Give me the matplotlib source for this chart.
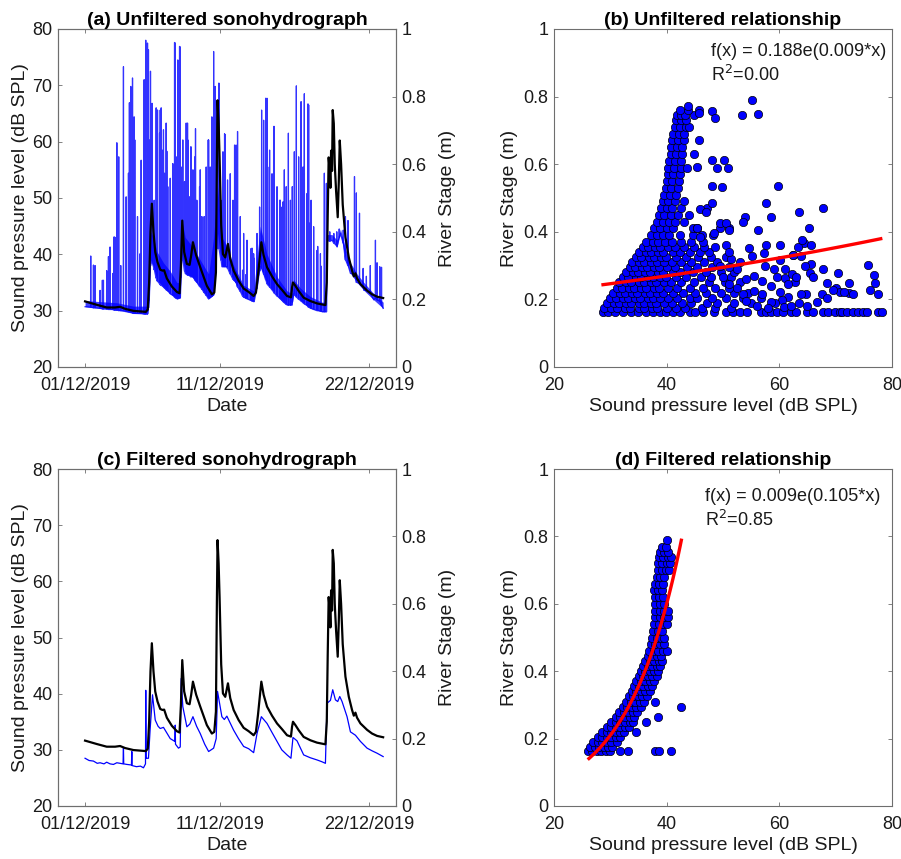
import datetime as dt
import numpy as np
import matplotlib
matplotlib.use("Agg")
import matplotlib.pyplot as plt
import matplotlib.dates as mdates
from matplotlib.ticker import FormatStrFormatter

plt.rcParams["font.family"] = ["Liberation Sans", "DejaVu Sans"]
plt.rcParams["font.size"] = 13

# ---- time series (days after 01/12/2019 00:00) ----
# river stage (m), right axis
stage_day = [0.00, 0.86, 1.60, 2.22, 2.59, 2.96, 3.58, 4.49, 4.64, 4.74, 4.84, 4.94, 5.06, 5.19,
             5.36, 5.56, 5.73, 5.85, 6.05, 6.42, 6.79, 6.99, 7.09, 7.19, 7.33, 7.53, 7.73, 7.85,
             7.98, 8.22, 8.52, 9.01, 9.38, 9.56, 9.68, 9.75, 9.80, 9.88, 9.95, 10.07, 10.20,
             10.37, 10.57, 10.74, 10.99, 11.36, 11.73, 12.10, 12.47, 12.64, 12.79, 12.94, 13.04,
             13.21, 13.46, 13.83, 14.20, 14.57, 14.94, 15.23, 15.31, 15.38, 15.56, 15.80, 16.17,
             16.67, 17.16, 17.78, 17.88, 17.95, 18.02, 18.10, 18.15, 18.20, 18.27, 18.32, 18.40,
             18.47, 18.57, 18.69, 18.77, 18.84, 18.94, 19.06, 19.26, 19.51, 19.75, 19.88, 20.00,
             20.12, 20.37, 20.86, 21.23, 21.60, 22.05]
stage_m = [0.194, 0.184, 0.176, 0.176, 0.178, 0.172, 0.166, 0.163, 0.170, 0.25, 0.40, 0.483, 0.40,
           0.34, 0.31, 0.288, 0.285, 0.286, 0.262, 0.238, 0.222, 0.218, 0.30, 0.433, 0.34, 0.305,
           0.302, 0.33, 0.369, 0.33, 0.295, 0.240, 0.215, 0.22, 0.28, 0.60, 0.789, 0.72, 0.62,
           0.42, 0.334, 0.324, 0.364, 0.32, 0.285, 0.255, 0.232, 0.222, 0.210, 0.22, 0.27, 0.33,
           0.369, 0.33, 0.295, 0.268, 0.245, 0.228, 0.21, 0.206, 0.235, 0.25, 0.24, 0.225, 0.205,
           0.195, 0.188, 0.183, 0.25, 0.45, 0.62, 0.58, 0.53, 0.64, 0.58, 0.76, 0.72, 0.60, 0.52,
           0.443, 0.55, 0.67, 0.60, 0.48, 0.384, 0.324, 0.285, 0.268, 0.277, 0.262, 0.245, 0.226,
           0.215, 0.208, 0.204]

# unfiltered SPL: baseline, dense noise top and individual spikes
base_day = [0.00, 1.11, 2.35, 3.58, 4.57, 4.74, 4.86, 5.06, 5.31, 5.80, 6.30, 6.79, 7.04, 7.16,
            7.41, 7.90, 8.52, 9.14, 9.51, 9.80, 10.12, 10.49, 10.99, 11.73, 12.47, 12.96, 13.46,
            14.20, 14.94, 15.31, 15.43, 15.93, 16.67, 17.53, 17.80, 17.90, 18.27, 18.64, 18.89,
            19.26, 19.63, 20.12, 20.62, 21.36, 22.05]
base_db = [30.7, 30.4, 30.1, 29.5, 29.4, 31.9, 39.0, 37.8, 35.4, 34.2, 33.0, 32.1, 32.3, 40.1,
           36.6, 36.0, 34.2, 32.1, 32.8, 43.7, 37.8, 37.8, 35.4, 32.4, 31.6, 37.8, 34.8, 32.6,
           31.0, 31.0, 33.0, 31.8, 30.4, 29.8, 29.8, 42.5, 42.5, 41.3, 43.7, 39.0, 36.6, 35.0,
           33.6, 31.9, 30.4]
band_top_db = [31.8, 31.6, 31.4, 30.8, 30.8, 38.0, 44.0, 43.0, 40.5, 38.5, 37.0, 35.0, 35.0, 46.0,
               43.0, 41.5, 39.0, 36.5, 43.0, 52.0, 43.0, 41.5, 38.0, 34.5, 33.5, 45.0, 40.0, 36.0,
               33.5, 33.0, 35.5, 34.0, 32.5, 31.5, 31.5, 43.5, 43.5, 42.5, 44.5, 41.0, 38.5, 36.5,
               35.0, 33.0, 31.5]
spike_day = [0.42, 0.62, 0.74, 1.11, 1.28, 1.36, 1.60, 1.73, 1.85, 2.05, 2.15, 2.22, 2.35, 2.49,
             2.64, 2.84, 3.04, 3.21, 3.28, 3.38, 3.51, 3.58, 3.63, 3.68, 3.88, 4.07, 4.15, 4.37,
             4.49, 4.62, 4.69, 4.74, 4.84, 4.96, 5.11, 5.26, 5.31, 5.36, 5.51, 5.56, 5.63, 5.75,
             5.80, 5.88, 6.00, 6.05, 6.12, 6.30, 6.49, 6.62, 6.67, 6.74, 6.86, 6.99, 7.04, 7.11,
             7.23, 7.36, 7.48, 7.58, 7.60, 7.73, 7.83, 7.98, 8.12, 8.17, 8.27, 8.47, 8.52, 8.64,
             8.81, 8.96, 9.11, 9.14, 9.26, 9.38, 9.51, 9.63, 9.75, 9.90, 10.05, 10.20, 10.32,
             10.37, 10.54, 10.74, 10.94, 11.06, 11.17, 11.28, 11.48, 11.65, 11.73, 11.90, 11.98,
             12.27, 12.35, 12.47, 12.50, 12.72, 12.91, 13.06, 13.21, 13.36, 13.46, 13.51, 13.65,
             13.83, 13.95, 14.00, 14.20, 14.40, 14.44, 14.57, 14.64, 14.74, 14.88, 15.04, 15.19,
             15.33, 15.48, 15.63, 15.80, 15.98, 16.12, 16.22, 16.42, 16.49, 16.54, 16.66, 16.72,
             16.91, 17.16, 17.21, 17.41, 17.46, 17.70, 17.85, 18.10, 18.40, 18.62, 18.80, 19.10,
             19.26, 19.45, 19.93, 20.07, 20.30, 20.57, 20.81, 21.10, 21.48, 21.60, 21.80, 21.93]
spike_foot = [30.6, 30.5, 30.5, 30.4, 30.3, 30.3, 30.3, 30.2, 30.2, 30.2, 30.1, 30.1, 30.1, 30.0,
              30.0, 30.0, 29.9, 29.8, 29.8, 29.7, 29.6, 29.5, 29.5, 29.5, 29.5, 29.5, 29.5, 29.4,
              29.4, 29.4, 30.5, 31.9, 38.0, 38.5, 37.3, 35.8, 35.4, 35.2, 34.8, 34.6, 34.5, 34.3,
              34.2, 34.0, 33.7, 33.6, 33.5, 33.0, 32.7, 32.4, 32.3, 32.2, 32.1, 32.2, 32.3, 36.0,
              39.0, 37.0, 36.5, 36.3, 36.3, 36.2, 36.0, 36.0, 35.5, 35.3, 35.0, 34.3, 34.2, 33.8,
              33.2, 32.7, 32.2, 32.1, 32.3, 32.5, 32.8, 36.0, 41.0, 41.0, 39.0, 37.8, 37.8, 37.8,
              37.5, 36.5, 35.6, 35.3, 35.0, 34.2, 33.4, 32.6, 32.4, 32.2, 32.1, 31.8, 31.7, 31.6,
              31.6, 34.0, 37.0, 37.5, 36.5, 35.5, 34.8, 34.6, 34.2, 33.7, 33.3, 33.1, 32.6, 32.2,
              32.1, 31.8, 31.6, 31.4, 31.1, 31.0, 31.0, 31.5, 32.8, 32.4, 32.0, 31.7, 31.4, 31.2,
              30.9, 30.7, 30.6, 30.5, 30.4, 30.2, 30.0, 30.0, 29.9, 29.9, 29.8, 29.8, 42.3, 42.0,
              41.5, 43.0, 42.0, 39.0, 38.0, 36.6, 35.0, 34.8, 34.2, 33.6, 33.0, 32.2, 31.9, 31.7,
              31.0, 30.7]
spike_db = [39.7, 38.1, 38.0, 33.6, 35.4, 35.4, 37.1, 39.6, 41.3, 36.6, 43.1, 43.0, 59.8, 57.3,
            38.0, 73.3, 50.2, 54.4, 66.9, 69.8, 71.3, 63.8, 64.4, 60.3, 46.7, 40.1, 56.7, 71.0,
            78.0, 77.5, 76.3, 60.3, 72.5, 66.8, 49.6, 66.0, 65.6, 65.6, 61.5, 65.6, 66.0, 58.5,
            62.1, 54.4, 63.3, 58.3, 52.0, 53.5, 56.1, 77.6, 77.5, 57.3, 74.5, 76.9, 76.8, 55.5,
            60.3, 52.9, 63.3, 63.3, 60.3, 50.2, 59.1, 55.0, 57.3, 62.3, 49.6, 52.0, 55.0, 46.7,
            46.7, 55.5, 60.3, 60.3, 55.5, 64.4, 76.0, 69.8, 66.8, 70.4, 49.6, 58.2, 61.4, 61.2,
            53.2, 54.3, 49.6, 59.4, 59.4, 61.8, 46.7, 37.2, 43.7, 36.4, 42.5, 41.0, 41.1, 40.1,
            39.3, 43.7, 48.4, 65.6, 63.8, 67.7, 67.7, 55.5, 58.5, 54.3, 62.7, 62.7, 52.0, 49.6,
            49.6, 48.4, 49.3, 55.0, 52.0, 61.5, 49.6, 52.0, 58.2, 69.9, 57.3, 67.1, 55.5, 68.5,
            50.8, 66.7, 66.5, 45.6, 49.6, 44.9, 40.7, 41.4, 40.1, 37.9, 54.4, 52.6, 44.0, 43.7,
            44.0, 44.5, 44.3, 46.7, 46.0, 53.8, 50.9, 47.3, 37.5, 36.1, 38.0, 42.5, 38.5, 37.8,
            37.7]

# filtered SPL (panel c)
filt_day = [0.00, 0.30, 0.62, 0.90, 1.11, 1.40, 1.60, 1.85, 2.10, 2.35, 2.59, 2.81, 2.84, 2.86,
            3.10, 3.43, 3.46, 3.48, 3.80, 4.10, 4.32, 4.47, 4.49, 4.52, 4.69, 4.81, 4.99, 5.19,
            5.40, 5.56, 5.80, 6.05, 6.30, 6.64, 6.67, 6.69, 6.91, 7.04, 7.11, 7.23, 7.53, 7.75,
            7.98, 8.25, 8.52, 8.85, 9.14, 9.51, 9.70, 9.80, 10.12, 10.30, 10.49, 10.99, 11.35,
            11.73, 12.10, 12.47, 12.72, 13.04, 13.46, 13.85, 14.20, 14.55, 14.94, 15.23, 15.38,
            15.68, 16.17, 16.65, 17.16, 17.50, 17.78, 17.90, 18.15, 18.32, 18.52, 18.69, 18.84,
            19.01, 19.38, 19.63, 20.00, 20.37, 20.86, 21.25, 21.60, 22.05]
filt_db = [28.5, 28.1, 28.0, 27.6, 27.7, 27.5, 27.8, 27.5, 27.4, 27.7, 27.6, 27.5, 30.3, 27.5,
           27.4, 27.3, 29.7, 27.2, 27.0, 27.1, 26.8, 27.5, 40.6, 28.5, 28.5, 33.5, 39.8, 35.3,
           34.2, 33.8, 34.0, 33.0, 32.0, 31.5, 34.4, 31.0, 30.3, 30.5, 42.7, 37.7, 34.1, 34.6,
           35.9, 34.2, 32.9, 31.0, 29.7, 30.3, 32.0, 40.4, 35.9, 35.4, 36.0, 33.5, 32.0, 30.6,
           30.2, 29.5, 32.9, 35.9, 34.7, 33.0, 31.5, 30.0, 29.1, 28.5, 32.2, 31.6, 29.1, 28.6,
           28.2, 27.9, 27.6, 38.3, 38.8, 40.7, 38.9, 38.6, 39.5, 38.6, 35.9, 33.2, 32.6, 31.5,
           30.3, 29.8, 29.4, 28.8]

# ---- scatter panels: river stage vs SPL ----
b_levels = [0.163, 0.175, 0.19, 0.205, 0.22, 0.235, 0.25, 0.265, 0.28, 0.295, 0.31, 0.325, 0.34,
            0.355, 0.37, 0.39, 0.41, 0.43, 0.45, 0.47, 0.49, 0.51, 0.53, 0.55, 0.57, 0.59, 0.61,
            0.63, 0.65, 0.67, 0.69, 0.71, 0.73, 0.745, 0.76]
b_rows = [
    [28.7, 29.6, 30.8, 32.3, 33.6, 34.9, 36.4, 37.6, 38.8, 39.8, 41.1, 42.4, 44.1, 45.0, 46.5,
     48.4, 50.6, 51.8, 53.0, 54.3, 56.8, 57.7, 58.6, 59.5, 60.6, 62.1, 62.9, 64.9, 66.0, 67.8,
     68.7, 69.9, 70.8, 71.2, 72.0, 73.1, 74.0, 74.8, 75.5, 77.6, 78.2],
    [28.9, 30.2, 31.1, 32.6, 33.5, 35.0, 35.9, 37.4, 38.3, 40.1, 41.6, 43.3, 46.2, 48.6, 51.5],
    [29.4, 30.6, 31.5, 32.8, 33.7, 35.1, 36.0, 37.3, 38.1, 39.6, 41.0, 42.7, 44.4, 47.1, 49.0,
     52.0, 55.0],
    [30.0, 31.0, 32.2, 33.1, 34.4, 35.3, 36.6, 37.5, 38.9, 40.2, 41.9, 44.1, 45.4, 48.0, 50.5, 53.5],
    [30.5, 31.7, 32.6, 33.9, 34.8, 36.1, 37.0, 38.3, 39.3, 41.1, 42.9, 45.1, 46.9, 49.6, 52.0, 54.5],
    [31.1, 32.0, 33.3, 34.2, 35.5, 36.4, 37.7, 38.7, 40.3, 41.9, 44.1, 46.4, 48.6, 51.0],
    [31.6, 32.8, 33.7, 35.0, 35.9, 37.2, 38.1, 39.5, 40.7, 42.6, 44.9, 47.6, 50.4, 53.0],
    [32.3, 33.2, 34.5, 35.4, 36.7, 37.6, 38.9, 39.9, 41.6, 43.4, 46.1, 47.9, 51.5],
    [32.8, 34.0, 34.9, 36.2, 37.1, 38.4, 39.4, 41.1, 42.4, 44.6, 46.9, 49.6, 52.0],
    [33.4, 34.3, 35.6, 36.5, 37.8, 38.7, 40.1, 41.4, 43.6, 45.4, 48.1, 51.0],
    [33.9, 35.1, 36.0, 37.3, 38.2, 39.6, 40.9, 42.6, 44.4, 46.6, 49.0],
    [34.6, 35.5, 36.8, 37.7, 39.0, 39.9, 41.6, 43.4, 45.6, 47.9, 50.5],
    [35.1, 36.3, 37.2, 38.5, 39.4, 41.1, 42.4, 44.1, 45.9, 47.5],
    [35.8, 36.7, 38.0, 38.9, 40.3, 41.4, 43.1, 44.9, 46.6, 48.5],
    [36.3, 37.5, 38.4, 39.7, 40.9, 42.6, 44.4, 46.5],
    [37.2, 38.3, 39.4, 40.5, 42.3, 44.6, 46.2, 48.3],
    [37.8, 38.9, 40.0, 41.2, 44.6, 45.3, 49.5, 51.1],
    [38.2, 39.3, 40.4, 41.5, 43.0],
    [38.6, 39.6, 40.7, 42.0, 44.0],
    [39.0, 40.0, 41.0, 42.5, 47.1],
    [39.3, 40.3, 41.4, 43.0],
    [39.6, 40.6, 41.7],
    [39.8, 40.8, 42.0],
    [40.0, 41.0, 42.2],
    [40.2, 41.2, 42.3],
    [40.3, 41.3, 42.5, 43.6],
    [40.5, 41.5, 42.6],
    [40.7, 41.6, 42.7, 44.8],
    [40.8, 41.8, 42.8],
    [41.0, 42.0, 43.0, 45.7],
    [41.2, 42.1, 43.1],
    [41.4, 42.3, 43.4, 44.0],
    [41.6, 42.5, 43.5],
    [41.8, 42.5, 43.2, 44.8],
    [42.3, 43.7, 45.8],
]
b_extra_spl = [55.2, 53.3, 56.3, 48.1, 48.6, 48.1, 49.0, 48.0, 59.8, 57.7, 58.5, 67.8, 63.5, 53.9,
               53.6, 56.3, 65.3, 49.4, 50.5, 51.1, 46.0, 46.9, 48.1, 45.3, 46.0, 48.4, 60.1, 54.7,
               57.7, 64.3, 65.7, 63.4, 64.1, 60.1, 62.5, 63.9, 65.7, 67.7, 75.8, 70.5, 76.8, 77.0,
               72.3, 68.5, 70.0, 70.8, 72.3, 76.1, 77.6, 67.5, 68.5, 66.6, 64.8, 63.9, 63.5, 61.6,
               60.1, 60.4, 59.2, 58.6, 56.8, 61.0, 62.7, 65.5, 62.2, 60.9, 55.1, 57.2, 62.4, 57.5,
               59.0, 55.5, 57.0, 58.5, 53.0, 51.5, 52.5, 54.0, 55.5, 53.5, 57.0, 50.5, 51.0, 49.5,
               50.0, 51.0, 52.5, 54.0, 56.0, 58.0, 61.5, 63.0, 64.5, 66.0, 59.5, 61.0, 69.5, 71.5,
               73.0, 62.0, 65.0, 43.7, 45.8, 45.4, 50.1, 50.9, 49.9]
b_extra_stage = [0.789, 0.744, 0.749, 0.758, 0.737, 0.613, 0.590, 0.536, 0.534, 0.486, 0.445,
                 0.471, 0.457, 0.445, 0.430, 0.405, 0.410, 0.425, 0.425, 0.405, 0.466, 0.457, 0.484,
                 0.410, 0.385, 0.395, 0.361, 0.351, 0.361, 0.366, 0.361, 0.356, 0.377, 0.316, 0.331,
                 0.328, 0.306, 0.291, 0.303, 0.279, 0.272, 0.249, 0.249, 0.247, 0.235, 0.222, 0.219,
                 0.228, 0.217, 0.217, 0.203, 0.193, 0.217, 0.217, 0.188, 0.208, 0.222, 0.198, 0.188,
                 0.193, 0.203, 0.262, 0.252, 0.277, 0.275, 0.178, 0.328, 0.336, 0.331, 0.30, 0.29,
                 0.27, 0.255, 0.24, 0.31, 0.32, 0.29, 0.26, 0.225, 0.215, 0.215, 0.36, 0.34, 0.30,
                 0.265, 0.245, 0.235, 0.195, 0.18, 0.175, 0.245, 0.265, 0.30, 0.265, 0.265, 0.29,
                 0.228, 0.222, 0.215, 0.18, 0.18, 0.772, 0.75, 0.592, 0.612, 0.589, 0.533]

d_levels = [0.163, 0.175, 0.19, 0.205, 0.22, 0.235, 0.25, 0.265, 0.28, 0.295, 0.31, 0.325, 0.34,
            0.355, 0.37, 0.385, 0.40, 0.415, 0.43, 0.445, 0.46, 0.48, 0.50, 0.52, 0.54, 0.56,
            0.58, 0.60, 0.62, 0.64, 0.66, 0.68, 0.70, 0.72, 0.74, 0.755, 0.77, 0.789]
d_rows = [
    [26.0, 26.8, 27.6, 28.4, 29.2, 30.0, 31.7, 33.2, 37.9, 38.6, 40.7],
    [26.4, 27.2, 28.0, 28.8, 29.6, 30.3],
    [27.0, 27.8, 28.6, 29.4, 30.2, 31.2],
    [27.8, 28.6, 29.4, 30.2, 31.0, 31.8],
    [28.6, 29.4, 30.2, 31.0, 31.8, 32.4, 34.5],
    [29.4, 30.2, 31.0, 31.8, 32.6, 33.3],
    [30.2, 31.0, 31.8, 32.6, 33.4, 34.0, 36.3],
    [31.0, 31.8, 32.6, 33.4, 34.2, 38.4],
    [31.6, 32.4, 33.2, 34.0, 34.8],
    [32.2, 33.0, 33.8, 34.6, 35.4, 42.6],
    [32.8, 33.6, 34.4, 35.2, 36.0, 37.9],
    [33.3, 34.1, 34.9, 35.7, 36.5],
    [33.8, 34.6, 35.4, 36.2, 37.0],
    [34.2, 35.0, 35.8, 36.6, 37.4],
    [34.6, 35.4, 36.2, 37.0, 37.8],
    [35.0, 35.8, 36.6, 37.4, 38.2],
    [35.4, 36.2, 37.0, 37.8, 38.5],
    [35.8, 36.6, 37.4, 38.2, 38.8],
    [36.2, 37.0, 37.8, 38.6, 39.2],
    [36.6, 37.4, 38.2, 39.0],
    [36.9, 37.7, 38.5, 39.3, 40.0],
    [37.2, 38.0, 38.8, 39.5],
    [37.4, 38.2, 39.0, 39.6],
    [37.6, 38.4, 39.2],
    [37.8, 38.6, 39.4, 40.1],
    [38.0, 38.8, 39.6, 40.3],
    [38.0, 38.8, 39.6, 40.2],
    [38.0, 38.8, 39.5],
    [37.9, 38.6, 39.3],
    [37.8, 38.5, 39.2],
    [38.0, 38.7, 39.4],
    [38.2, 38.9, 39.6],
    [38.4, 39.1, 39.8, 40.4],
    [38.4, 39.2, 40.0, 40.6],
    [38.6, 39.4, 40.2, 40.8],
    [38.8, 39.6, 40.3],
    [39.2, 39.8],
    [40.0],
]

# exponential fits shown on the chart: f(x) = a*exp(b*x), drawn between x0 and x1
fit_b = (0.188, 0.009, 28.7, 78.0)
fit_d = (0.009, 0.105, 26.2, 42.6)

# ---------------------------------------------------------------
t0 = mdates.date2num(dt.datetime(2019, 12, 1))
xlim_dates = (mdates.date2num(dt.datetime(2019, 11, 29)), mdates.date2num(dt.datetime(2019, 12, 24)))
date_ticks = [mdates.date2num(dt.datetime(2019, 12, d)) for d in (1, 11, 22)]

ink = "#1a1a1a"
spine_col = "#6e6e6e"

fig = plt.figure(figsize=(9.01, 8.59), dpi=100)
rect_a = [0.0644, 0.5728, 0.3751, 0.3935]
rect_b = [0.6149, 0.5728, 0.3751, 0.3935]
rect_c = [0.0644, 0.0617, 0.3751, 0.3923]
rect_d = [0.6149, 0.0617, 0.3751, 0.3923]


def style(ax):
    for s in ax.spines.values():
        s.set_color(spine_col)
        s.set_linewidth(0.8)
    ax.tick_params(direction="in", length=3, width=0.6, colors=spine_col, labelcolor=ink,
                   labelsize=13, pad=4)
    ax.tick_params(axis="x", pad=7)


def sono_panel(rect, title, spl_x, spl_y, lw, alpha, band=False):
    ax = fig.add_axes(rect)
    if band:
        ax.fill_between(t0 + np.array(base_day), base_db, band_top_db, color="#0000ff",
                        alpha=0.75, lw=0)
    ax.plot(spl_x, spl_y, color="#0000ff", lw=lw, alpha=alpha)
    ax.set_xlim(*xlim_dates)
    ax.set_ylim(20, 80)
    ax.set_yticks(range(20, 81, 10))
    ax.set_xticks(date_ticks)
    ax.xaxis.set_major_formatter(mdates.DateFormatter("%d/%m/%Y"))
    ax.set_xlabel("Date", color=ink, fontsize=14, labelpad=3)
    ax.set_ylabel("Sound pressure level (dB SPL)", color=ink, fontsize=14, labelpad=2)
    ax.set_title(title, fontweight="bold", fontsize=14, color="black", pad=3)
    style(ax)
    ax.tick_params(top=True, right=False)
    ax2 = ax.twinx()
    ax2.plot(t0 + np.array(stage_day), stage_m, color="black", lw=1.6)
    ax2.set_ylim(0, 1)
    ax2.set_yticks(np.arange(0, 1.01, 0.2))
    ax2.yaxis.set_major_formatter(FormatStrFormatter("%g"))
    ax2.set_ylabel("River Stage (m)", color=ink, fontsize=14, labelpad=9)
    style(ax2)
    ax2.tick_params(left=False, right=True)
    return ax


# unfiltered line: baseline plus narrow spikes
pts = list(zip(base_day, base_db))
for d, f, p in zip(spike_day, spike_foot, spike_db):
    pts += [(d - 0.012, f), (d, p), (d + 0.012, f)]
pts.sort()
raw_x = t0 + np.array([p[0] for p in pts])
raw_y = np.array([p[1] for p in pts])

sono_panel(rect_a, "(a) Unfiltered sonohydrograph", raw_x, raw_y, 0.9, 0.8, band=True)
sono_panel(rect_c, "(c) Filtered sonohydrograph", t0 + np.array(filt_day), filt_db, 0.9, 1.0)


def scatter_panel(rect, title, xs, ys, fit, eq, r2, text_x, text_y):
    ax = fig.add_axes(rect)
    ax.scatter(xs, ys, s=36, facecolor="#0000ff", edgecolor="black", linewidths=0.5, zorder=2)
    a, b, x0, x1 = fit
    fx = np.linspace(x0, x1, 100)
    ax.plot(fx, a * np.exp(b * fx), color="red", lw=2.4, zorder=3)
    ax.set_xlim(20, 80)
    ax.set_ylim(0, 1)
    ax.set_xticks([20, 40, 60, 80])
    ax.set_yticks(np.arange(0, 1.01, 0.2))
    ax.yaxis.set_major_formatter(FormatStrFormatter("%g"))
    ax.set_xlabel("Sound pressure level (dB SPL)", color=ink, fontsize=14, labelpad=3)
    ax.set_ylabel("River Stage (m)", color=ink, fontsize=14, labelpad=4)
    ax.set_title(title, fontweight="bold", fontsize=14, color="black", pad=3)
    ax.text(text_x, text_y, eq, fontsize=13, color=ink, va="center")
    ax.text(text_x, text_y - 0.069, r2, fontsize=13, color=ink, va="center")
    style(ax)
    ax.tick_params(top=True, right=True)


bx = [v for row in b_rows for v in row] + b_extra_spl
by = [lv for lv, row in zip(b_levels, b_rows) for _ in row] + b_extra_stage
dx = [v for row in d_rows for v in row]
dy = [lv for lv, row in zip(d_levels, d_rows) for _ in row]

scatter_panel(rect_b, "(b) Unfiltered relationship", bx, by, fit_b,
              "f(x) = 0.188e(0.009*x)", "R$^2$=0.00", 47.8, 0.933)
scatter_panel(rect_d, "(d) Filtered relationship", dx, dy, fit_d,
              "f(x) = 0.009e(0.105*x)", "R$^2$=0.85", 46.8, 0.918)

fig.savefig("out.png", dpi=100)
